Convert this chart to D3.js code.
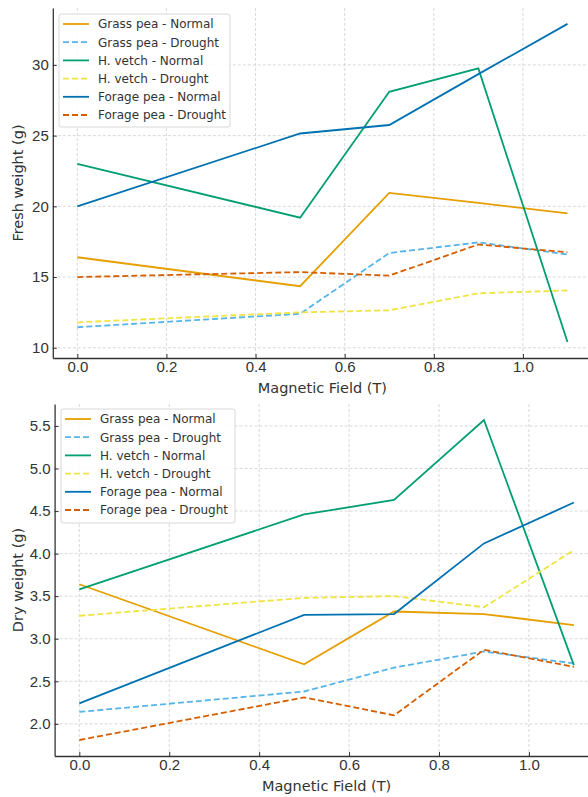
<!DOCTYPE html>
<html>
<head>
<meta charset="utf-8">
<script src="https://cdn.jsdelivr.net/npm/d3@7"></script>
<style>
  body { margin: 0; background: #fff; }
  svg { display: block; font-family: "DejaVu Sans", sans-serif; }
  .grid line { stroke: #cfcfcf; stroke-dasharray: 3,2; stroke-width: 0.8; }
  .axis text { fill: #333; font-size: 15px; }
  .axis line, .axis path { stroke: #333; }
</style>
</head>
<body>
<svg id="chart" width="588" height="797"></svg>
<script>
'use strict';

var fields = [0, 0.5, 0.7, 0.9, 1.1];
var seriesNames = ['Grass pea - Normal', 'Grass pea - Drought', 'H. vetch - Normal',
  'H. vetch - Drought', 'Forage pea - Normal', 'Forage pea - Drought'];
var seriesColors = ['#E69F00', '#56B4E9', '#009E73', '#F0E442', '#0072B2', '#D55E00'];
var seriesDashed = [false, true, false, true, false, true];

// Fresh weight (g)
var freshGrassNormal = [16.4, 14.35, 20.95, 20.25, 19.5];
var freshGrassDrought = [11.45, 12.4, 16.7, 17.45, 16.6];
var freshVetchNormal = [23.0, 19.2, 28.1, 29.75, 10.4];
var freshVetchDrought = [11.8, 12.5, 12.65, 13.85, 14.05];
var freshForageNormal = [20.0, 25.15, 25.75, 29.35, 32.9];
var freshForageDrought = [15.0, 15.35, 15.1, 17.3, 16.75];

// Dry weight (g)
var dryGrassNormal = [3.64, 2.70, 3.32, 3.29, 3.16];
var dryGrassDrought = [2.14, 2.38, 2.66, 2.85, 2.71];
var dryVetchNormal = [3.58, 4.46, 4.63, 5.57, 2.69];
var dryVetchDrought = [3.27, 3.48, 3.50, 3.37, 4.04];
var dryForageNormal = [2.24, 3.28, 3.29, 4.12, 4.60];
var dryForageDrought = [1.81, 2.31, 2.10, 2.87, 2.67];

var freshSeries = [freshGrassNormal, freshGrassDrought, freshVetchNormal, freshVetchDrought, freshForageNormal, freshForageDrought];
var drySeries = [dryGrassNormal, dryGrassDrought, dryVetchNormal, dryVetchDrought, dryForageNormal, dryForageDrought];

var xTicks = [0, 0.2, 0.4, 0.6, 0.8, 1.0];
var freshTicks = [10, 15, 20, 25, 30];
var dryTicks = [2.0, 2.5, 3.0, 3.5, 4.0, 4.5, 5.0, 5.5];

var svg = d3.select('#chart');

function drawPanel(box, series, yTicks, yFormat, yLabel, legendBox) {
  var g = svg.append('g');

  // matplotlib style 5% margins on both axes
  var xMin = d3.min(fields), xMax = d3.max(fields);
  var xPad = (xMax - xMin) * 0.05;
  var all = d3.merge(series);
  var yMin = d3.min(all), yMax = d3.max(all);
  var yPad = (yMax - yMin) * 0.05;

  var x = d3.scaleLinear().domain([xMin - xPad, xMax + xPad]).range([box.left, box.right]);
  var y = d3.scaleLinear().domain([yMin - yPad, yMax + yPad]).range([box.bottom, box.top]);

  // grid
  var grid = g.append('g').attr('class', 'grid');
  grid.selectAll('line.v').data(xTicks).enter().append('line')
    .attr('x1', function (d) { return x(d); }).attr('x2', function (d) { return x(d); })
    .attr('y1', box.top).attr('y2', box.bottom);
  grid.selectAll('line.h').data(yTicks).enter().append('line')
    .attr('y1', function (d) { return y(d); }).attr('y2', function (d) { return y(d); })
    .attr('x1', box.left).attr('x2', box.right);

  // lines
  var line = d3.line()
    .x(function (d, i) { return x(fields[i]); })
    .y(function (d) { return y(d); });
  series.forEach(function (s, i) {
    g.append('path')
      .datum(s)
      .attr('d', line)
      .attr('fill', 'none')
      .attr('stroke', seriesColors[i])
      .attr('stroke-width', 1.8)
      .attr('stroke-dasharray', seriesDashed[i] ? '6,3' : null);
  });

  // axes: inward ticks, only left and bottom spines
  var xAxis = g.append('g').attr('class', 'axis')
    .attr('transform', 'translate(0,' + box.bottom + ')')
    .call(d3.axisBottom(x).tickValues(xTicks).tickFormat(d3.format('.1f')).tickSizeInner(-4).tickSizeOuter(0).tickPadding(3.5));
  xAxis.select('.domain').attr('stroke-width', 1.3);

  var yAxis = g.append('g').attr('class', 'axis')
    .attr('transform', 'translate(' + box.left + ',0)')
    .call(d3.axisLeft(y).tickValues(yTicks).tickFormat(yFormat).tickSizeInner(-4).tickSizeOuter(0).tickPadding(4));
  yAxis.select('.domain').attr('stroke-width', 1.3);

  // axis labels
  g.append('text')
    .attr('x', (box.left + box.right) / 2)
    .attr('y', box.bottom + 35)
    .attr('text-anchor', 'middle')
    .attr('fill', '#333')
    .attr('font-size', '14.5px')
    .text('Magnetic Field (T)');
  g.append('text')
    .attr('transform', 'translate(' + 22.5 + ',' + (box.top + box.bottom) / 2 + ') rotate(-90)')
    .attr('text-anchor', 'middle')
    .attr('fill', '#333')
    .attr('font-size', '14.5px')
    .text(yLabel);

  // legend
  var lg = g.append('g').attr('transform', 'translate(' + legendBox.x + ',' + legendBox.y + ')');
  lg.append('rect')
    .attr('width', legendBox.w).attr('height', legendBox.h)
    .attr('rx', 2)
    .attr('fill', '#fff').attr('fill-opacity', 0.85)
    .attr('stroke', '#d8d8d8');
  seriesNames.forEach(function (name, i) {
    var cy = 10 + i * 18.2;
    lg.append('line')
      .attr('x1', 4).attr('x2', 30).attr('y1', cy).attr('y2', cy)
      .attr('stroke', seriesColors[i]).attr('stroke-width', 1.8)
      .attr('stroke-dasharray', seriesDashed[i] ? '6,3' : null);
    lg.append('text')
      .attr('x', 39).attr('y', cy + 4.3)
      .attr('fill', '#333').attr('font-size', '12px')
      .text(name);
  });
}

drawPanel({ left: 52.8, right: 592, top: 8, bottom: 358 }, freshSeries, freshTicks,
  d3.format('d'), 'Fresh weight (g)', { x: 59, y: 14, w: 171, h: 113 });
drawPanel({ left: 54.6, right: 598.6, top: 404, bottom: 756 }, drySeries, dryTicks,
  d3.format('.1f'), 'Dry weight (g)', { x: 61, y: 409, w: 174, h: 114 });
</script>
</body>
</html>
